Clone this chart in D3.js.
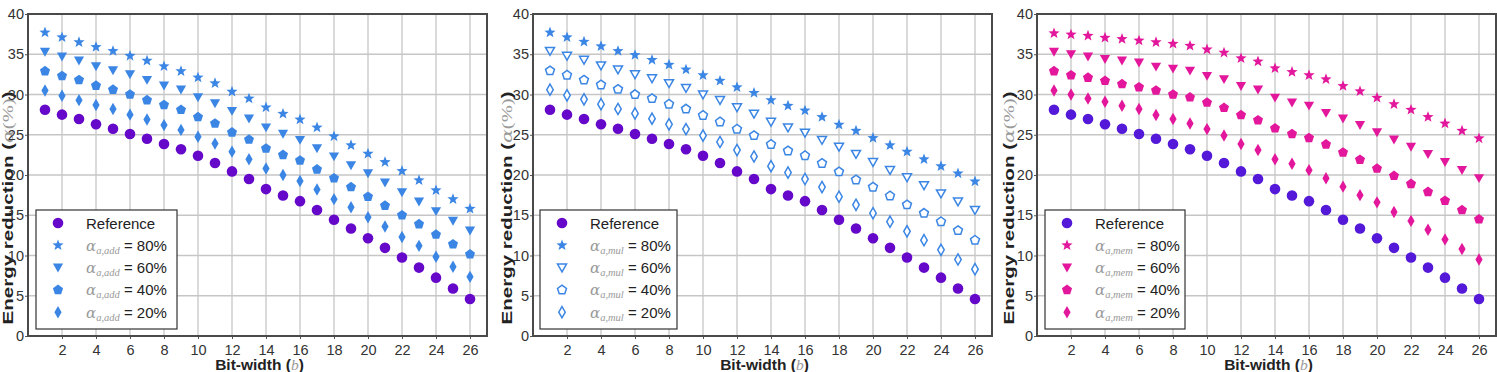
<!DOCTYPE html>
<html><head><meta charset="utf-8">
<script src="https://cdn.jsdelivr.net/npm/d3@7"></script>
<style>body{margin:0;background:#fff}svg{display:block}</style>
</head><body>
<svg id="c" width="1497" height="372"></svg>
<script>
const bits = d3.range(1, 27);
const xTicks = [2,4,6,8,10,12,14,16,18,20,22,24,26];
const yTicks = [0,5,10,15,20,25,30,35,40];
const levels = ["80%","60%","40%","20%"];

const ref = [28.1,27.5,26.95,26.3,25.75,25.1,24.5,23.85,23.2,22.4,21.5,20.45,19.5,18.25,17.45,16.75,15.65,14.45,13.35,12.15,10.95,9.75,8.5,7.25,5.9,4.6];

const add80 = [37.7,37.1,36.5,35.9,35.4,34.8,34.2,33.5,32.9,32.1,31.4,30.35,29.5,28.4,27.6,26.9,25.9,24.8,23.7,22.65,21.6,20.5,19.35,18.1,17.0,15.8];
const add60 = [35.3,34.7,34.2,33.5,33.0,32.5,31.8,31.1,30.6,29.65,28.9,27.95,27.0,25.9,25.1,24.35,23.3,22.3,21.2,20.2,19.05,17.85,16.7,15.5,14.3,13.1];
const add40 = [32.9,32.3,31.8,31.1,30.6,30.0,29.3,28.7,28.1,27.2,26.4,25.3,24.4,23.3,22.5,21.8,20.7,19.6,18.5,17.3,16.2,15.0,13.9,12.6,11.4,10.15];
const add20 = [30.5,29.85,29.3,28.7,28.2,27.5,26.9,26.2,25.6,24.75,23.9,22.9,21.95,20.8,20.0,19.25,18.2,17.0,16.0,14.75,13.6,12.3,11.2,9.85,8.6,7.35];

const mul80 = [37.7,37.1,36.55,36.0,35.4,34.9,34.3,33.7,33.1,32.4,31.7,30.9,30.2,29.3,28.6,28.0,27.2,26.25,25.5,24.6,23.7,22.9,21.95,21.1,20.2,19.2];
const mul60 = [35.4,34.8,34.3,33.6,33.1,32.5,32.0,31.4,30.8,30.0,29.3,28.4,27.6,26.6,25.9,25.25,24.35,23.5,22.6,21.6,20.6,19.7,18.7,17.7,16.7,15.65];
const mul40 = [32.95,32.4,31.8,31.2,30.65,30.0,29.5,28.8,28.2,27.4,26.6,25.7,24.9,23.8,23.0,22.4,21.45,20.4,19.4,18.5,17.4,16.3,15.25,14.2,13.1,11.9];
const mul20 = [30.6,29.9,29.4,28.8,28.2,27.65,27.0,26.3,25.7,24.9,24.1,23.1,22.3,21.1,20.3,19.5,18.5,17.3,16.3,15.25,14.2,13.0,11.9,10.7,9.5,8.3];

const mem80 = [37.6,37.45,37.3,37.05,36.9,36.7,36.5,36.3,36.05,35.6,35.2,34.5,34.1,33.25,32.8,32.4,31.9,31.05,30.4,29.6,28.8,28.1,27.2,26.4,25.5,24.55];
const mem60 = [35.3,35.0,34.7,34.4,34.2,33.95,33.45,33.2,32.95,32.3,31.9,31.05,30.6,29.6,29.0,28.6,27.7,27.0,26.2,25.3,24.4,23.5,22.6,21.6,20.6,19.6];
const mem40 = [32.9,32.4,32.1,31.7,31.3,30.9,30.5,30.0,29.65,29.0,28.35,27.45,26.8,25.8,25.1,24.6,23.8,22.8,21.9,20.8,19.9,18.9,17.9,16.8,15.65,14.5];
const mem20 = [30.5,30.0,29.5,29.1,28.6,28.2,27.45,26.95,26.4,25.7,24.9,23.85,23.1,21.95,21.4,20.6,19.6,18.55,17.5,16.6,15.4,14.3,13.2,12.0,10.8,9.5];

function poly(pts){return "M"+pts.map(p=>p[0].toFixed(2)+","+p[1].toFixed(2)).join("L")+"Z";}
const shapes = {
  circle: r => `M${r},0A${r},${r} 0 1,1 ${-r},0A${r},${r} 0 1,1 ${r},0Z`,
  star: r => poly(d3.range(10).map(i=>{const a=-Math.PI/2+i*Math.PI/5, rr=i%2?r*0.42:r; return [rr*Math.cos(a), rr*Math.sin(a)];})),
  pent: r => poly(d3.range(5).map(i=>{const a=-Math.PI/2+i*2*Math.PI/5; return [r*Math.cos(a), r*Math.sin(a)];})),
  tri: r => poly([[0,r*0.95],[-r,-r*0.8],[r,-r*0.8]]),
  diam: r => poly([[0,-r],[r*0.58,0],[0,r],[-r*0.58,0]])
};
const shapeR = {circle:5.3, star:5.9, pent:5.3, tri:5.1, diam:6.2};

const svg = d3.select("#c");
const W = 459, H = 322, TOP = 14;

const panels = [
  {left:28, sub:"a,add", color:"#3b86e4", refColor:"#6508c9", open:false,
   series:[add80,add60,add40,add20], legX:36, legW:141, ytX:13},
  {left:533, sub:"a,mul", color:"#3b86e4", refColor:"#6508c9", open:true,
   series:[mul80,mul60,mul40,mul20], legX:540, legW:137, ytX:511.5},
  {left:1037, sub:"a,mem", color:"#e3179c", refColor:"#5418d8", open:false,
   series:[mem80,mem60,mem40,mem20], legX:1045, legW:140, ytX:1013.5}
];
const shapeOrder = ["star","tri","pent","diam"];

panels.forEach(p => {
  const x = d3.scaleLinear().domain([0,27]).range([p.left, p.left+W]);
  const y = d3.scaleLinear().domain([0,40]).range([TOP+H, TOP]);
  const g = svg.append("g");

  // axis titles
  const cx = p.left + W/2;
  const xt = g.append("text").attr("x",cx+2).attr("y",369.5).attr("text-anchor","middle")
    .attr("font-family","'Liberation Sans',Arial,sans-serif").attr("font-weight","bold").attr("font-size","15.5px").attr("fill","#222");
  xt.append("tspan").text("Bit-width (");
  xt.append("tspan").attr("font-family","'Liberation Serif',serif").attr("font-style","italic").attr("font-weight","normal").attr("fill","#9a9a9a").text("b");
  xt.append("tspan").text(")");

  const yt = g.append("text").attr("transform",`translate(${p.ytX},208) rotate(-90) scale(1.37,1)`)
    .attr("text-anchor","middle")
    .attr("font-family","'Liberation Sans',Arial,sans-serif").attr("font-weight","bold").attr("font-size","15px").attr("fill","#222");
  yt.append("tspan").text("Energy reduction (");
  yt.append("tspan").attr("font-family","'DejaVu Serif','Liberation Serif',serif").attr("font-style","italic").attr("font-weight","normal").attr("fill","#9a9a9a").text("α");
  yt.append("tspan").attr("font-family","'Liberation Serif',serif").attr("font-weight","normal").attr("fill","#9a9a9a").text("(%)");
  yt.append("tspan").text(")");

  // grid
  g.append("g").selectAll("line").data(xTicks).join("line")
    .attr("x1",d=>x(d)).attr("x2",d=>x(d)).attr("y1",TOP).attr("y2",TOP+H)
    .attr("stroke","#c6c6c6").attr("stroke-width",1.3);
  g.append("g").selectAll("line").data(yTicks).join("line")
    .attr("x1",p.left).attr("x2",p.left+W).attr("y1",d=>y(d)).attr("y2",d=>y(d))
    .attr("stroke","#c6c6c6").attr("stroke-width",1.3);

  // axes
  const xa = g.append("g").attr("transform",`translate(0,${TOP+H})`)
    .call(d3.axisBottom(x).tickValues(xTicks).tickSize(3).tickPadding(6));
  const ya = g.append("g").attr("transform",`translate(${p.left},0)`)
    .call(d3.axisLeft(y).tickValues(yTicks).tickSize(3).tickPadding(1));
  [xa,ya].forEach(a=>{
    a.select(".domain").remove();
    a.selectAll("line").attr("stroke","#555");
    a.selectAll("text").attr("font-family","'Liberation Sans',Arial,sans-serif")
      .attr("font-size","14.5px").attr("fill","#333");
  });

  // frame
  g.append("rect").attr("x",p.left).attr("y",TOP).attr("width",W).attr("height",H)
    .attr("fill","none").attr("stroke","#4a4a4a").attr("stroke-width",2);

  // series
  const all = [{vals:ref, shape:"circle", color:p.refColor, open:false}]
    .concat(p.series.map((s,i)=>({vals:s, shape:shapeOrder[i], color:p.color, open:p.open && i>0})));
  all.forEach(s => {
    g.append("g").selectAll("path").data(bits).join("path")
      .attr("transform",(d,i)=>`translate(${x(d)},${y(s.vals[i])})`)
      .attr("d",shapes[s.shape](s.open?shapeR[s.shape]-0.6:shapeR[s.shape]))
      .attr("fill",s.open?"#fff":s.color)
      .attr("stroke",s.open?s.color:"none")
      .attr("stroke-width",s.open?1.5:0);
  });

  // legend
  const lg = g.append("g");
  const ly0 = 210, lh = 119;
  lg.append("rect").attr("x",p.legX).attr("y",ly0).attr("width",p.legW).attr("height",lh)
    .attr("fill","#fff").attr("stroke","#333").attr("stroke-width",1.2);
  const rows = [{label:null, shape:"circle", color:p.refColor, open:false}]
    .concat(levels.map((l,i)=>({label:l, shape:shapeOrder[i], color:p.color, open:p.open && i>0})));
  rows.forEach((r,i) => {
    const cy = 223 + i*22.3;
    const mx = p.legX + 22;
    lg.append("path").attr("transform",`translate(${mx},${cy})`)
      .attr("d",shapes[r.shape](r.open?shapeR[r.shape]-0.6:shapeR[r.shape]))
      .attr("fill",r.open?"#fff":r.color).attr("stroke",r.open?r.color:"none").attr("stroke-width",r.open?1.5:0);
    const t = lg.append("text").attr("x",p.legX+50).attr("y",cy+5.5)
      .attr("font-family","'Liberation Sans',Arial,sans-serif").attr("font-size","15px").attr("fill","#222");
    if (r.label === null) {
      t.text("Reference");
    } else {
      t.append("tspan").attr("font-family","'DejaVu Serif','Liberation Serif',serif").attr("font-style","italic")
        .attr("fill","#9a9a9a").attr("font-size","15px").text("α");
      t.append("tspan").attr("font-family","'Liberation Serif',serif").attr("font-style","italic")
        .attr("fill","#9a9a9a").attr("font-size","10.5px").attr("dy",3).text(p.sub);
      t.append("tspan").attr("dy",-3).text(" = " + r.label);
    }
  });
});
</script>
</body></html>
